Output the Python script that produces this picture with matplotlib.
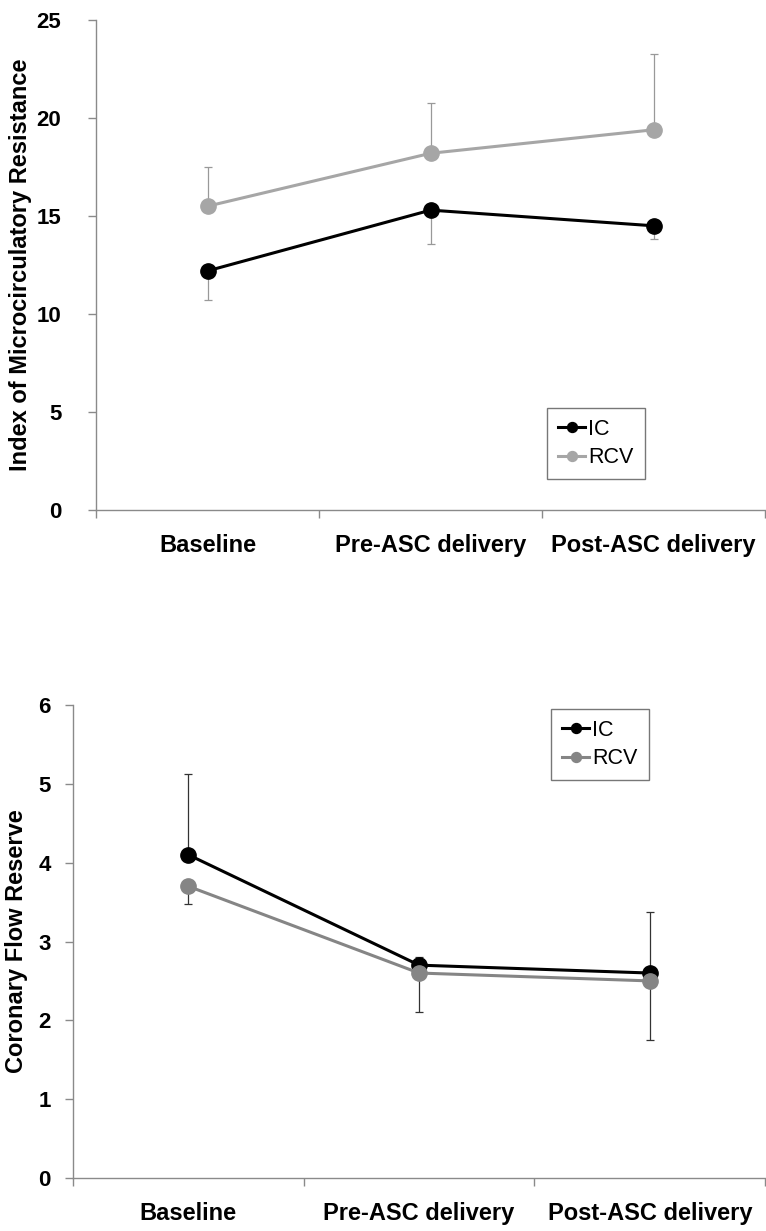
import matplotlib
matplotlib.use("Agg")
import matplotlib.pyplot as plt
import numpy as np

plt.rcParams['font.family'] = ['Liberation Sans', 'DejaVu Sans']

categories = ["Baseline", "Pre-ASC delivery", "Post-ASC delivery"]

# Top panel: Index of Microcirculatory Resistance
imr_ic = [12.2, 15.3, 14.5]
imr_ic_err_low = [1.5, 1.75, 0.65]
imr_rcv = [15.5, 18.2, 19.4]
imr_rcv_err_up = [2.0, 2.55, 3.85]
imr_yticks = [0, 5, 10, 15, 20, 25]

# Bottom panel: Coronary Flow Reserve
cfr_ic = [4.1, 2.7, 2.6]
cfr_ic_err_up = [1.03, 0.1, 0.78]
cfr_rcv = [3.7, 2.6, 2.5]
cfr_rcv_err_low = [0.23, 0.49, 0.75]
cfr_yticks = [0, 1, 2, 3, 4, 5, 6]

W, H = 766, 1231
fig = plt.figure(figsize=(W/100, H/100), dpi=100)

def style_axes(ax, yticks, ylabel, ypad, labelpad):
    ax.set_xlim(-0.5, 2.5)
    ax.set_ylim(yticks[0], yticks[-1])
    for s in ['top', 'right']:
        ax.spines[s].set_visible(False)
    for s in ['left', 'bottom']:
        ax.spines[s].set_color('#8a8a8a')
        ax.spines[s].set_linewidth(1.0)
    ax.set_yticks(yticks)
    ax.set_yticklabels([str(t) for t in yticks], fontsize=16, fontweight='bold')
    ax.tick_params(axis='y', length=6, width=1, color='#8a8a8a', pad=ypad)
    ax.set_xticks([-0.5, 0.5, 1.5, 2.5])
    ax.set_xticklabels([])
    ax.tick_params(axis='x', which='major', length=6, width=1, color='#8a8a8a')
    ax.set_xticks(range(len(categories)), minor=True)
    ax.set_xticklabels(categories, minor=True, fontsize=17, fontweight='bold')
    ax.tick_params(axis='x', which='minor', length=0, pad=17)
    ax.set_ylabel(ylabel, fontsize=17, fontweight='bold', labelpad=labelpad)

def style_legend(leg):
    leg.get_frame().set_edgecolor('#555555')
    leg.get_frame().set_linewidth(1.0)

x = np.arange(len(categories))
leg_kw = dict(fontsize=15.5, frameon=True, fancybox=False, handlelength=1.25,
              handletextpad=0.15, borderpad=0.5, labelspacing=0.35, markerscale=0.65,
              borderaxespad=0)

# Top
ax1 = fig.add_axes([96/W, 1-510/H, 1-96/W-0.001, (510-20)/H])
style_axes(ax1, imr_yticks, "Index of Microcirculatory Resistance", 19, 3.5)
ax1.errorbar(x, imr_rcv, yerr=[np.zeros(3), imr_rcv_err_up], fmt='none',
             ecolor='#999999', elinewidth=0.9, capsize=3, capthick=0.9, zorder=2)
ax1.errorbar(x, imr_ic, yerr=[imr_ic_err_low, np.zeros(3)], fmt='none',
             ecolor='#999999', elinewidth=0.9, capsize=3, capthick=0.9, zorder=2)
ax1.plot(x, imr_ic, color='black', lw=2.2, marker='o', ms=11, label='IC', zorder=3)
ax1.plot(x, imr_rcv, color='#a6a6a6', lw=2.2, marker='o', ms=11, label='RCV', zorder=3)
leg1 = ax1.legend(loc='upper left', bbox_to_anchor=((548-96)/(W-96), (510-408)/490), **leg_kw)
style_legend(leg1)

# Bottom
ax2 = fig.add_axes([73/W, 1-1178/H, 1-73/W-0.001, (1178-705)/H])
style_axes(ax2, cfr_yticks, "Coronary Flow Reserve", 10, 7.5)
ax2.errorbar(x, cfr_ic, yerr=[np.zeros(3), cfr_ic_err_up], fmt='none',
             ecolor='#333333', elinewidth=0.9, capsize=3, capthick=0.9, zorder=2)
ax2.errorbar(x, cfr_rcv, yerr=[cfr_rcv_err_low, np.zeros(3)], fmt='none',
             ecolor='#333333', elinewidth=0.9, capsize=3, capthick=0.9, zorder=2)
ax2.plot(x, cfr_ic, color='black', lw=2.2, marker='o', ms=11, label='IC', zorder=3)
ax2.plot(x, cfr_rcv, color='#858585', lw=2.2, marker='o', ms=11, label='RCV', zorder=3)
leg2 = ax2.legend(loc='upper left', bbox_to_anchor=((552-73)/(W-73), (1178-709)/473), **leg_kw)
style_legend(leg2)

fig.savefig("out.png", dpi=100, facecolor='white')
